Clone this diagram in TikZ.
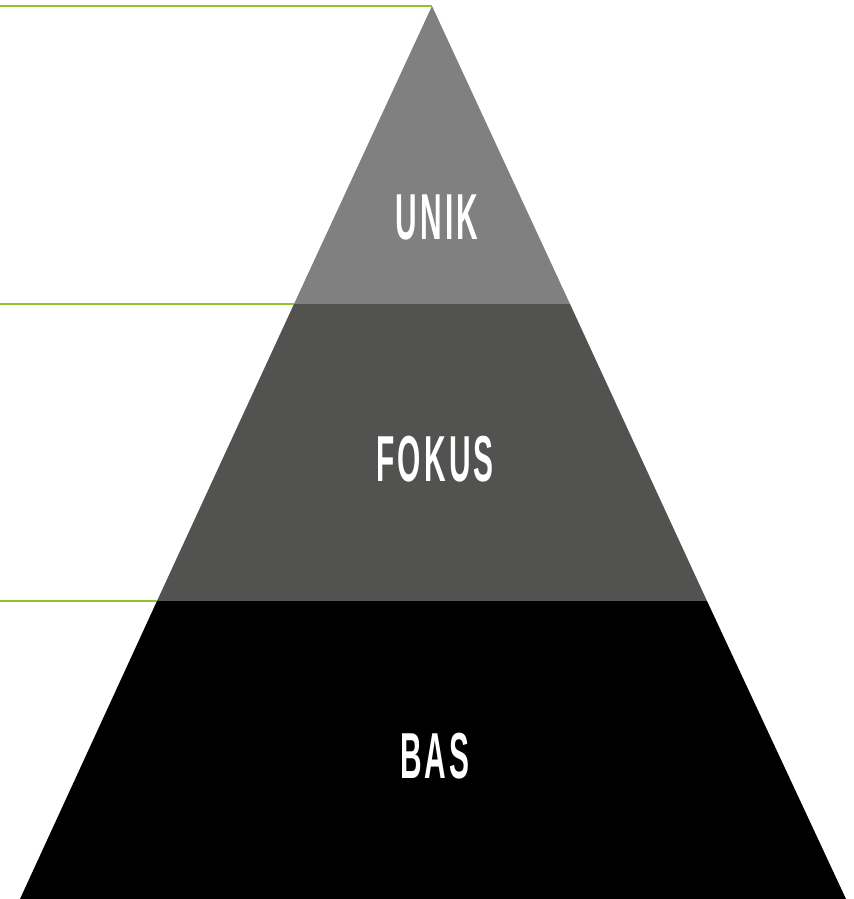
\documentclass[tikz,border=0pt]{standalone}
\usepackage{fontspec}
\usepackage{graphicx}
\newfontfamily\pyrfont[LetterSpace=11]{Liberation Sans}
\usetikzlibrary{calc}
\definecolor{leafgreen}{RGB}{141,196,40}
\definecolor{topgray}{RGB}{128,128,128}
\definecolor{midgray}{RGB}{82,82,80}
\tikzset{
  guide/.style={draw=leafgreen, line width=1.6pt},
  layer/.style={draw=none},
  tier/.style={text=white, inner sep=0pt, font=\fontsize{37}{37}\selectfont\pyrfont\bfseries},
}
\newcommand{\narrow}[1]{\scalebox{0.46}[1]{#1}}

\begin{document}
\begin{tikzpicture}[x=0.02cm, y=-0.02cm]
  \useasboundingbox (0,0) rectangle (854,899);
  % pyramid corners
  \coordinate (apex) at (432,6);
  \coordinate (ul) at (294,304);
  \coordinate (ur) at (570,304);
  \coordinate (ml) at (157,601);
  \coordinate (mr) at (707,601);
  \coordinate (bl) at (20,899);
  \coordinate (br) at (846,899);
  % left ends of the guides
  \coordinate (g1) at (0,6);
  \coordinate (g2) at (0,304);
  \coordinate (g3) at (0,601);

  \fill[layer, topgray] (apex) -- (ur) -- (ul) -- cycle;
  \fill[layer, midgray] (ul) -- (ur) -- (mr) -- (ml) -- cycle;
  \fill[layer, black] (ml) -- (mr) -- (br) -- (bl) -- cycle;

  \draw[guide] (g1) -- (apex);
  \draw[guide] (g2) -- (ul);
  \draw[guide] (g3) -- (ml);

  \node[tier] (unik) at (437,217) {\narrow{UNIK}};
  \node[tier] (fokus) at (435,459) {\narrow{FOKUS}};
  \node[tier] (bas) at (435,756) {\narrow{BAS}};
\end{tikzpicture}
\end{document}
